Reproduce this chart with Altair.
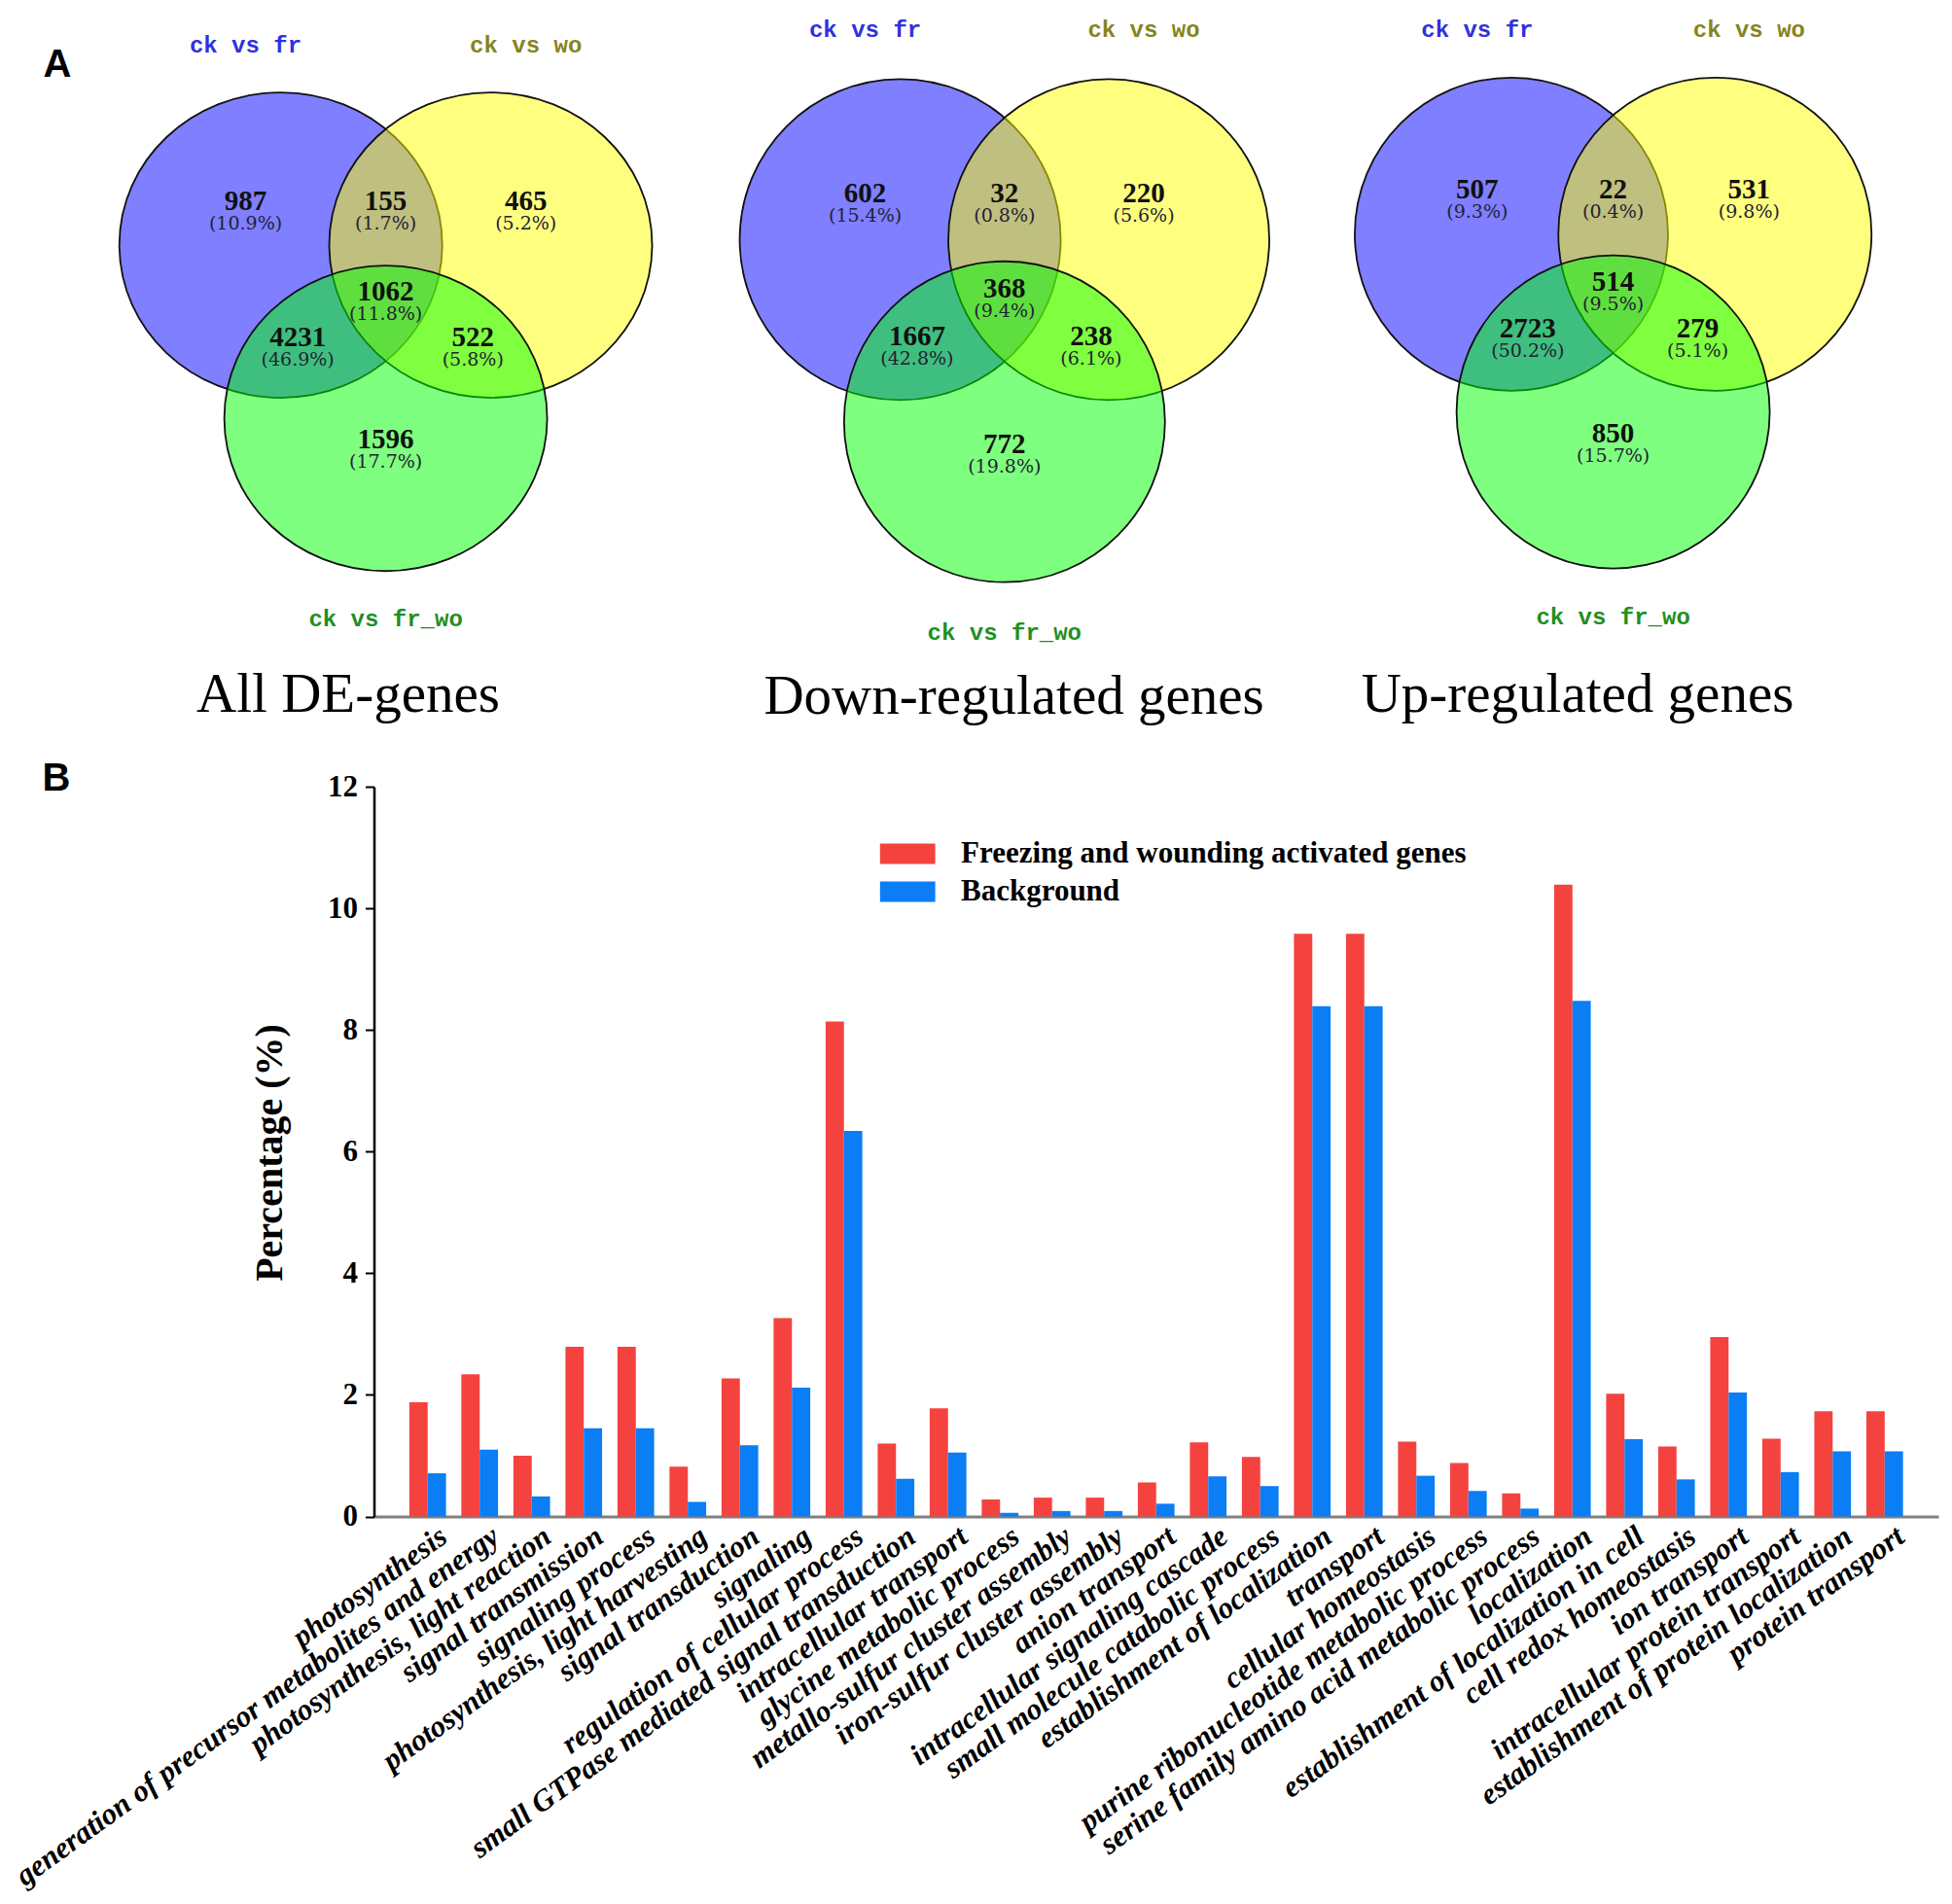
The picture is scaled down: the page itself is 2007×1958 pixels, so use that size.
import altair as alt
import pandas as pd

# ---------------- data ----------------
set_names = ["ck vs fr", "ck vs wo", "ck vs fr_wo"]
venn_titles = ["All DE-genes", "Down-regulated genes", "Up-regulated genes"]
# region order: fr only, fr&wo, wo only, all three, fr&fr_wo, wo&fr_wo, fr_wo only
all_counts = [987, 155, 465, 1062, 4231, 522, 1596]
all_pcts = [10.9, 1.7, 5.2, 11.8, 46.9, 5.8, 17.7]
down_counts = [602, 32, 220, 368, 1667, 238, 772]
down_pcts = [15.4, 0.8, 5.6, 9.4, 42.8, 6.1, 19.8]
up_counts = [507, 22, 531, 514, 2723, 279, 850]
up_pcts = [9.3, 0.4, 9.8, 9.5, 50.2, 5.1, 15.7]

go_terms = [
    "photosynthesis",
    "generation of precursor metabolites and energy",
    "photosynthesis, light reaction",
    "signal transmission",
    "signaling process",
    "photosynthesis, light harvesting",
    "signal transduction",
    "signaling",
    "regulation of cellular process",
    "small GTPase mediated signal transduction",
    "intracellular transport",
    "glycine metabolic process",
    "metallo-sulfur cluster assembly",
    "iron-sulfur cluster assembly",
    "anion transport",
    "intracellular signaling cascade",
    "small molecule catabolic process",
    "establishment of localization",
    "transport",
    "cellular homeostasis",
    "purine ribonucleotide metabolic process",
    "serine family amino acid metabolic process",
    "localization",
    "establishment of localization in cell",
    "cell redox homeostasis",
    "ion transport",
    "intracellular protein transport",
    "establishment of protein localization",
    "protein transport",
]
fw_values = [1.88, 2.34, 1.00, 2.79, 2.79, 0.82, 2.27, 3.26, 8.14, 1.20, 1.78, 0.28, 0.31, 0.31,
             0.56, 1.22, 0.98, 9.58, 9.58, 1.23, 0.88, 0.38, 10.39, 2.02, 1.15, 2.95, 1.28, 1.73, 1.73]
bg_values = [0.71, 1.10, 0.33, 1.45, 1.45, 0.24, 1.17, 2.12, 6.34, 0.62, 1.05, 0.06, 0.09, 0.09,
             0.21, 0.66, 0.50, 8.39, 8.39, 0.67, 0.42, 0.13, 8.48, 1.27, 0.61, 2.04, 0.73, 1.07, 1.07]
series_names = ["Freezing and wounding activated genes", "Background"]
y_ticks = [0, 2, 4, 6, 8, 10, 12]

# ---------------- layout (pixel geometry of the figure) ----------------
W, H = 1991, 1942
OX, OY = 8, 8
venn_geo = [
    dict(cx=396.6, cy=300.7, rx=166, ry=157, tx=358, ty=732),
    dict(cx=1032.8, cy=297.6, rx=165, ry=165, tx=1042.6, ty=734),
    dict(cx=1658.6, cy=290.7, rx=161, ry=161, tx=1622, ty=732),
]
circle_unit = [(-0.65, -0.31), (0.65, -0.31), (0.0, 0.825)]
circle_fill = ["#0000ff", "#ffff00", "#00ff00"]
set_label_unit = [(-0.868, -1.615), (0.868, -1.615), (0.0, 2.14)]
set_label_color = ["#3030dd", "#85851c", "#1f8f1f"]
region_unit = [(-0.868, -0.59), (0.0, -0.59), (0.868, -0.59), (0.0, 0.0),
               (-0.545, 0.30), (0.54, 0.30), (0.0, 0.97)]

venn_counts = [all_counts, down_counts, up_counts]
venn_pcts = [all_pcts, down_pcts, up_pcts]

circ_rows, reg_rows, lab_rows, title_rows = [], [], [], []
for v, g in enumerate(venn_geo):
    k = g["ry"] / g["rx"]
    path = f"M-1,0A1,{k:.4f},0,1,1,1,0A1,{k:.4f},0,1,1,-1,0Z"
    for i, (ux, uy) in enumerate(circle_unit):
        circ_rows.append(dict(ord=v * 3 + i, x=g["cx"] + ux * g["rx"], y=g["cy"] + uy * g["ry"],
                              fill=circle_fill[i], path=path, size=(2 * g["rx"]) ** 2))
    for r, (ux, uy) in enumerate(region_unit):
        reg_rows.append(dict(x=g["cx"] + ux * g["rx"], y=g["cy"] + uy * g["ry"],
                             count=str(venn_counts[v][r]), pct=f"({venn_pcts[v][r]:.1f}%)"))
    for i, (ux, uy) in enumerate(set_label_unit):
        lab_rows.append(dict(x=g["cx"] + ux * g["rx"], y=g["cy"] + uy * g["ry"],
                             label=set_names[i], color=set_label_color[i]))
    title_rows.append(dict(x=g["tx"], y=g["ty"], label=venn_titles[v]))

circ_df = pd.DataFrame(circ_rows)
reg_df = pd.DataFrame(reg_rows)
lab_df = pd.DataFrame(lab_rows)
title_df = pd.DataFrame(title_rows)
letter_df = pd.DataFrame([dict(x=44.5, y=67, label="A"), dict(x=43.5, y=801, label="B")])

bar_rows = []
for t, a, b in zip(go_terms, fw_values, bg_values):
    bar_rows.append(dict(term=t, series=series_names[0], value=a))
    bar_rows.append(dict(term=t, series=series_names[1], value=b))
bar_df = pd.DataFrame(bar_rows)

sx = alt.Scale(domain=[OX, OX + W], range=[0, W], nice=False, zero=False)
sy = alt.Scale(domain=[OY, OY + H], range=[0, H], nice=False, zero=False)


def pos():
    return dict(x=alt.X("x:Q", scale=sx, axis=None), y=alt.Y("y:Q", scale=sy, axis=None))


circles = alt.Chart(circ_df).mark_point(
    filled=True, opacity=1, fillOpacity=0.5, stroke="#111111", strokeWidth=1.8, strokeOpacity=1
).encode(
    **pos(),
    shape=alt.Shape("path:N", scale=None),
    size=alt.Size("size:Q", scale=None),
    fill=alt.Fill("fill:N", scale=None),
)

numbers = alt.Chart(reg_df).mark_text(
    font="Liberation Serif", fontWeight="bold", fontSize=29, color="#111111",
    align="center", baseline="middle", dy=-1
).encode(**pos(), text="count:N")

pcts = alt.Chart(reg_df).mark_text(
    font="DejaVu Serif", fontSize=19, color="#222233",
    align="center", baseline="middle", dy=22
).encode(**pos(), text="pct:N")

set_labels = alt.Chart(lab_df).mark_text(
    font="Liberation Mono", fontWeight="bold", fontSize=24, align="center", baseline="middle"
).encode(**pos(), text="label:N", color=alt.Color("color:N", scale=None))

titles = alt.Chart(title_df).mark_text(
    font="Liberation Serif", fontSize=57, color="black", align="center", baseline="alphabetic"
).encode(**pos(), text="label:N")

letters = alt.Chart(letter_df).mark_text(
    font="Liberation Sans", fontWeight="bold", fontSize=40, color="black", align="left", baseline="middle"
).encode(**pos(), text="label:N")

rect_path = "M-1,-0.368L1,-0.368L1,0.368L-1,0.368Z"

bars = alt.Chart(bar_df).mark_bar().encode(
    x=alt.X(
        "term:N", sort=go_terms,
        scale=alt.Scale(range=[376.5, 1985], paddingInner=0, paddingOuter=0.532),
        axis=alt.Axis(
            title=None, orient="bottom", offset=-390.5, ticks=False, grid=False,
            domainColor="#808080", domainWidth=3,
            labelAngle=-36, labelAlign="right", labelBaseline="top",
            labelFont="Liberation Serif", labelFontStyle="italic", labelFontWeight="bold",
            labelFontSize=31, labelColor="black", labelPadding=5, labelOffset=8,
            labelLimit=1000, labelOverlap=False,
        ),
    ),
    xOffset=alt.XOffset("series:N", sort=series_names,
                        scale=alt.Scale(paddingInner=0, paddingOuter=0.419)),
    y=alt.Y(
        "value:Q",
        scale=alt.Scale(domain=[0, 12], range=[1551.5, 801], nice=False, zero=True),
        axis=alt.Axis(
            title="Percentage (%)", orient="left", offset=-376.5, values=y_ticks, grid=False,
            domainColor="black", domainWidth=2.5, tickColor="black", tickWidth=2, tickSize=9,
            labelFont="Liberation Serif", labelFontWeight="bold", labelFontSize=31,
            labelColor="black", labelPadding=8,
            titleFont="Liberation Serif", titleFontWeight="bold", titleFontSize=40,
            titleColor="black", titleAngle=270, titleBaseline="middle", titleAlign="center",
            titleX=-107, titleY=1177,
        ),
    ),
    color=alt.Color(
        "series:N", sort=series_names,
        scale=alt.Scale(domain=series_names, range=["#f4433f", "#0b7df5"]),
        legend=alt.Legend(
            title=None, orient="none", legendX=896.6, legendY=850.75, padding=0,
            symbolType=rect_path, symbolSize=3249, symbolStrokeWidth=0, symbolOpacity=1,
            clipHeight=38.5, rowPadding=0,
            labelFont="Liberation Serif", labelFontWeight="bold", labelFontSize=31,
            labelColor="black", labelOffset=26.4, labelLimit=1000,
        ),
    ),
)

chart = alt.layer(circles, numbers, pcts, set_labels, titles, letters, bars).resolve_scale(
    x="independent", y="independent"
).properties(
    width=W, height=H, padding=0, autosize=alt.AutoSizeParams(type="none"), background="white"
).configure_view(stroke=None)

chart.save("out.html", embed_options={"renderer": "svg", "actions": False})
